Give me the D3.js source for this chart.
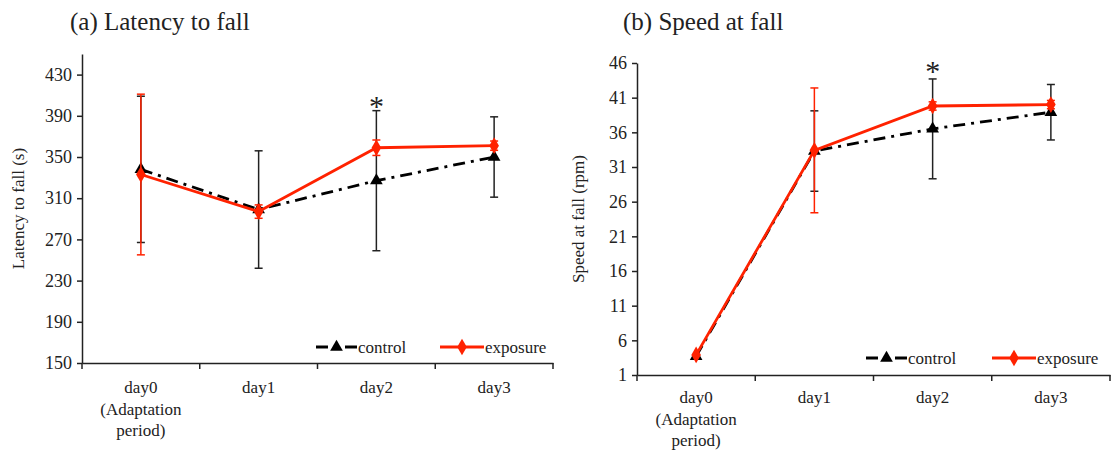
<!DOCTYPE html>
<meta charset="utf-8">
<style>
body { margin: 0; background: #fff; }
svg text { font-family: "Liberation Serif", "Times New Roman", serif; fill: #222; }
.axis path, .axis line { stroke: #222; stroke-width: 1.5px; }
</style>
<svg width="1114" height="450"></svg>
<script src="https://d3js.org/d3.v7.min.js"></script>
<script>

// values
var days = ["day0", "day1", "day2", "day3"];
var dayLabels = [["day0", "(Adaptation", "period)"], ["day1"], ["day2"], ["day3"]];

var latencyControl = [338, 299, 327, 350];
var latencyControlErr = [71, 57, 68, 39];
var latencyExposure = [333, 297, 359, 361];
var latencyExposureErr = [78, 6.5, 7.5, 4.5];
var latencyTicks = [150, 190, 230, 270, 310, 350, 390, 430];

var speedControl = [3.7, 33.3, 36.5, 38.9];
var speedControlErr = [0, 5.8, 7.2, 4];
var speedExposure = [3.9, 33.4, 39.8, 40.0];
var speedExposureErr = [0, 9, 0.6, 0.6];
var speedTicks = [1, 6, 11, 16, 21, 26, 31, 36, 41, 46];

var significant = [false, false, true, false];

var RED = "#ff2200";

var svg = d3.select("svg");

function panel(opt) {
  var g = svg.append("g");

  var x = d3.scaleBand().domain(days).range([opt.left, opt.right]);
  var y = d3.scaleLinear().domain(opt.domain).range([opt.bottom, opt.top]);
  var cx = function(i) { return x(days[i]) + x.bandwidth() / 2; };

  // y axis
  g.append("g")
      .attr("class", "axis")
      .attr("transform", "translate(" + opt.left + ",0)")
      .call(d3.axisLeft(y).tickValues(opt.ticks).tickSize(5).tickSizeOuter(0).tickPadding(5))
    .selectAll("text")
      .style("font-size", "18px")
      .attr("fill", "#222");

  // x axis: labels in band centres, ticks at band edges
  var xa = g.append("g")
      .attr("class", "axis")
      .attr("transform", "translate(0," + opt.bottom + ")")
      .call(d3.axisBottom(x).tickSize(0).tickSizeOuter(0).tickPadding(opt.labelPad));
  xa.selectAll(".tick text").each(function(d, i) {
    var t = d3.select(this).text(null).style("font-size", "17px").attr("fill", "#222");
    dayLabels[i].forEach(function(s, k) {
      t.append("tspan").attr("x", 0).attr("dy", k == 0 ? "0.32em" : "1.25em").text(s);
    });
  });
  var edges = days.map(function(d) { return x(d); }).concat([opt.right]);
  g.selectAll(".edge")
    .data(edges)
    .enter().append("line")
      .attr("x1", function(d) { return d; })
      .attr("x2", function(d) { return d; })
      .attr("y1", opt.bottom)
      .attr("y2", opt.bottom + 6)
      .attr("stroke", "#222")
      .attr("stroke-width", 1.5);

  // titles
  g.append("text")
      .attr("x", opt.titleX)
      .attr("y", 30)
      .style("font-size", "25px")
      .attr("fill", "#000")
      .text(opt.title);
  g.append("text")
      .attr("transform", "translate(" + opt.labelX + "," + ((opt.top + opt.bottom) / 2) + ") rotate(-90)")
      .attr("text-anchor", "middle")
      .style("font-size", "17px")
      .text(opt.yLabel);

  var line = d3.line()
      .x(function(d, i) { return cx(i); })
      .y(function(d) { return y(d); });

  function errorBars(vals, errs, color) {
    var eb = g.append("g").attr("stroke", color).attr("stroke-width", 1.5);
    vals.forEach(function(v, i) {
      if (!errs[i]) return;
      var x0 = cx(i), y1 = y(v + errs[i]), y2 = y(v - errs[i]);
      eb.append("line").attr("x1", x0).attr("x2", x0).attr("y1", y1).attr("y2", y2);
      eb.append("line").attr("x1", x0 - 4).attr("x2", x0 + 4).attr("y1", y1).attr("y2", y1);
      eb.append("line").attr("x1", x0 - 4).attr("x2", x0 + 4).attr("y1", y2).attr("y2", y2);
    });
  }

  var tri = d3.symbol().type(d3.symbolTriangle).size(70);
  var dia = d3.symbol().type(d3.symbolDiamond).size(80);

  // control
  g.append("path")
      .datum(opt.control)
      .attr("fill", "none")
      .attr("stroke", "#000")
      .attr("stroke-width", 2.8)
      .attr("stroke-dasharray", "12,6,3,6")
      .attr("d", line);
  errorBars(opt.control, opt.controlErr, "#222");
  g.selectAll(".tri")
    .data(opt.control)
    .enter().append("path")
      .attr("transform", function(d, i) { return "translate(" + cx(i) + "," + y(d) + ")"; })
      .attr("d", tri)
      .attr("fill", "#000");

  // exposure
  errorBars(opt.exposure, opt.exposureErr, RED);
  g.append("path")
      .datum(opt.exposure)
      .attr("fill", "none")
      .attr("stroke", RED)
      .attr("stroke-width", 2.8)
      .attr("d", line);
  g.selectAll(".dia")
    .data(opt.exposure)
    .enter().append("path")
      .attr("transform", function(d, i) { return "translate(" + cx(i) + "," + y(d) + ")"; })
      .attr("d", dia)
      .attr("fill", RED);

  // significance
  significant.forEach(function(s, i) {
    if (!s) return;
    var top = Math.max(opt.control[i] + opt.controlErr[i], opt.exposure[i] + opt.exposureErr[i]);
    g.append("text")
        .attr("x", cx(i))
        .attr("y", y(top) + opt.starOff)
        .attr("text-anchor", "middle")
        .style("font-size", "30px")
        .attr("fill", "#000")
        .text("*");
  });

  // legend
  var ly = opt.legendY, lx = opt.legendX;
  var lg = g.append("g");
  lg.append("line").attr("x1", lx).attr("x2", lx + 12).attr("y1", ly).attr("y2", ly)
      .attr("stroke", "#000").attr("stroke-width", 3);
  lg.append("line").attr("x1", lx + 29).attr("x2", lx + 41).attr("y1", ly).attr("y2", ly)
      .attr("stroke", "#000").attr("stroke-width", 3);
  lg.append("path").attr("transform", "translate(" + (lx + 20.5) + "," + ly + ")").attr("d", tri).attr("fill", "#000");
  lg.append("text").attr("x", lx + 42).attr("y", ly + 6).style("font-size", "17px").text("control");
  var ex = lx + opt.legendGap;
  lg.append("line").attr("x1", ex).attr("x2", ex + 44).attr("y1", ly).attr("y2", ly)
      .attr("stroke", RED).attr("stroke-width", 2.8);
  lg.append("path").attr("transform", "translate(" + (ex + 22) + "," + ly + ")").attr("d", dia).attr("fill", RED);
  lg.append("text").attr("x", ex + 45).attr("y", ly + 6).style("font-size", "17px").text("exposure");
}

panel({
  left: 82, right: 553, top: 54, bottom: 363,
  domain: [150, 450], ticks: latencyTicks,
  control: latencyControl, controlErr: latencyControlErr,
  exposure: latencyExposure, exposureErr: latencyExposureErr,
  title: "(a) Latency to fall", titleX: 70,
  yLabel: "Latency to fall (s)", labelX: 24,
  legendX: 316, legendY: 347, legendGap: 124,
  labelPad: 25, starOff: 5
});

panel({
  left: 637, right: 1110, top: 63, bottom: 375,
  domain: [1, 46], ticks: speedTicks,
  control: speedControl, controlErr: speedControlErr,
  exposure: speedExposure, exposureErr: speedExposureErr,
  title: "(b) Speed at fall", titleX: 623,
  yLabel: "Speed at fall (rpm)", labelX: 584,
  legendX: 866, legendY: 358, legendGap: 126,
  labelPad: 23, starOff: 2
});

</script>
